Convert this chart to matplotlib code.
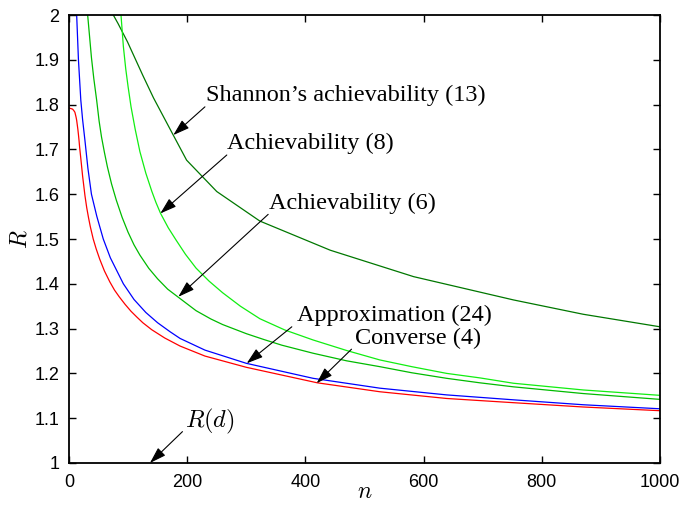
import matplotlib
matplotlib.use("Agg")
import matplotlib.pyplot as plt
from matplotlib.ticker import FuncFormatter

plt.rcParams["mathtext.fontset"] = "cm"

# Converse (4) - red
n_conv = [1, 6, 8, 10, 12, 13, 14, 15, 16, 17, 18, 20, 23, 27, 30, 33, 36, 41, 46, 52,
          60, 69, 77, 85, 95, 105, 115, 125, 140, 162, 188, 230, 300, 420, 526, 639,
          752, 870, 1000]
r_conv = [1.792, 1.790, 1.787, 1.783, 1.772, 1.765, 1.755, 1.745, 1.733, 1.72, 1.705,
          1.68, 1.641, 1.597, 1.570, 1.548, 1.528, 1.50, 1.478, 1.455, 1.4286, 1.4045,
          1.386, 1.371, 1.354, 1.3386, 1.3255, 1.313, 1.2975, 1.279, 1.261, 1.2387,
          1.2136, 1.179, 1.159, 1.144, 1.1346, 1.125, 1.1167]

# Approximation (24) - blue
n_appr = [11, 13, 16, 20, 23, 27, 32, 38, 47, 58, 70, 92, 110, 130, 150, 171, 188, 230,
          300, 413, 526, 639, 752, 870, 1000]
r_appr = [2.08, 2.0, 1.90, 1.81, 1.767, 1.72, 1.658, 1.60, 1.551, 1.50, 1.458, 1.40,
          1.365, 1.336, 1.313, 1.293, 1.278, 1.252, 1.2225, 1.189, 1.167, 1.152, 1.141,
          1.130, 1.121]

# Achievability (8) - light green
n_ach8 = [86, 88, 92, 96, 100, 105, 112, 120, 130, 140, 147, 155, 168, 181, 197, 215,
          237, 260, 290, 323, 365, 413, 470, 526, 580, 639, 695, 752, 870, 1000]
r_ach8 = [2.035, 2.0, 1.93, 1.88, 1.84, 1.795, 1.745, 1.695, 1.647, 1.607, 1.582, 1.557,
          1.525, 1.498, 1.466, 1.435, 1.406, 1.38, 1.35, 1.322, 1.297, 1.2746, 1.251,
          1.23, 1.215, 1.20, 1.19, 1.178, 1.163, 1.151]

# Achievability (6) - green
n_ach6 = [30, 31.6, 38, 42, 46.8, 51, 55, 60, 65, 72, 80, 90, 100, 110, 120, 135, 150,
          167, 184, 215, 240, 260, 300, 330, 360, 413, 470, 526, 580, 639, 695, 752,
          870, 1000]
r_ach6 = [2.031, 2.0, 1.905, 1.858, 1.81, 1.763, 1.728, 1.693, 1.661, 1.623, 1.587,
          1.548, 1.515, 1.487, 1.464, 1.4346, 1.411, 1.388, 1.371, 1.340, 1.3215, 1.309,
          1.2887, 1.2755, 1.263, 1.245, 1.228, 1.215, 1.2014, 1.189, 1.179, 1.170,
          1.155, 1.142]

# Shannon's achievability (13) - dark green
n_shan = [75, 83, 99, 125, 143, 176, 199, 250, 323, 442, 583, 752, 870, 1000]
r_shan = [2.0, 1.981, 1.94, 1.865, 1.815, 1.733, 1.676, 1.606, 1.540, 1.475, 1.416,
          1.364, 1.332, 1.304]

fig = plt.figure(figsize=(6.81, 5.09), dpi=100)
ax = fig.add_axes([0.1013, 0.0904, 0.8679, 0.8801])

ax.plot(n_shan, r_shan, color="#007700", lw=0.9)
ax.plot(n_ach8, r_ach8, color="#11ee11", lw=0.9)
ax.plot(n_ach6, r_ach6, color="#00bb00", lw=0.9)
ax.plot(n_appr, r_appr, color="#0000ff", lw=0.9)
ax.plot(n_conv, r_conv, color="#ff0000", lw=0.9)

ax.set_xlim(0, 1000)
ax.set_ylim(1, 2)
ax.set_xticks(range(0, 1001, 200))
ax.set_yticks([1 + 0.1 * i for i in range(11)])
ax.yaxis.set_major_formatter(FuncFormatter(lambda v, p: "%g" % round(v, 1)))
ax.tick_params(direction="in", length=5, width=1, top=True, right=True,
               labelsize=13)
ax.tick_params(axis="x", pad=8)
ax.tick_params(axis="y", pad=7)
for lab in ax.get_xticklabels() + ax.get_yticklabels():
    lab.set_family("Liberation Sans")
for s in ax.spines.values():
    s.set_linewidth(1.3)

ax.set_xlabel("$n$", fontsize=17, labelpad=-9)
ax.set_ylabel("$R$", fontsize=17, labelpad=2)

# annotations: (text, text pos, arrow tail, arrow tip)
notes = [
    ("Shannon\u2019s achievability (13)", (232, 1.821), (230, 1.795), (176.5, 1.732)),
    ("Achievability (8)", (268, 1.714), (267, 1.6875), (154.5, 1.557)),
    ("Achievability (6)", (339, 1.58), (337, 1.555), (185, 1.371)),
    ("Approximation (24)", (385, 1.330), (377, 1.304), (300.7, 1.2225)),
    ("Converse (4)", (484, 1.278), (478, 1.254), (419, 1.178)),
    ("$R(d)$", (196, 1.092), (192, 1.07), (137, 1.0)),
]
for txt, tpos, tail, tip in notes:
    ax.text(tpos[0], tpos[1], txt, ha="left", va="center", fontsize=17.5,
            family="Liberation Serif")
    ax.annotate("", xy=tip, xytext=tail,
                arrowprops=dict(arrowstyle="-|>,head_length=1.0,head_width=0.32",
                                color="k", lw=0.8, shrinkA=0, shrinkB=0))

fig.savefig("out.png", dpi=100)
